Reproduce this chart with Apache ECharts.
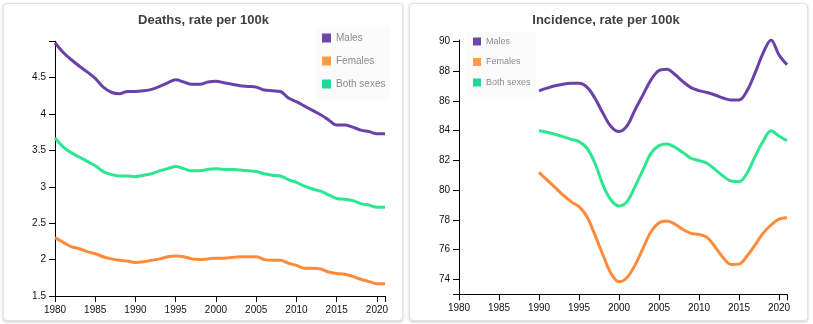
<!DOCTYPE html>
<html>
<head>
<meta charset="utf-8">
<script src="https://cdn.jsdelivr.net/npm/echarts@6/dist/echarts.min.js"></script>
<style>
  html, body { margin: 0; padding: 0; width: 813px; height: 324px; background: #fff; overflow: hidden; }
  .card { position: absolute; border: 1px solid #e2e2e2; border-radius: 4px; box-shadow: 0 1px 3px rgba(0,0,0,0.22); background: #fff; }
  #chart { position: absolute; left: 0; top: 0; width: 813px; height: 324px; }
</style>
</head>
<body>
<div class="card" style="left:3px;top:3px;width:398px;height:316px;"></div>
<div class="card" style="left:409px;top:3px;width:397px;height:316px;"></div>
<div id="chart"></div>
<script>
// ---- data ----
var deathTitle = 'Deaths, rate per 100k';
var incTitle = 'Incidence, rate per 100k';
var seriesNames = ['Males', 'Females', 'Both sexes'];

var deathYears = [1980,1981,1982,1983,1984,1985,1986,1987,1988,1989,
  1990,1991,1992,1993,1994,1995,1996,1997,1998,1999,
  2000,2001,2002,2003,2004,2005,2006,2007,2008,2009,
  2010,2011,2012,2013,2014,2015,2016,2017,2018,2019,2020,2021];
var deathsMales = [4.98,4.85,4.75,4.66,4.58,4.49,4.37,4.30,4.28,4.31,
  4.31,4.32,4.34,4.38,4.43,4.47,4.44,4.41,4.41,4.44,
  4.45,4.43,4.41,4.39,4.38,4.37,4.33,4.32,4.31,4.22,
  4.17,4.11,4.05,3.99,3.92,3.85,3.85,3.82,3.78,3.76,3.73,3.73];
var deathsFemales = [2.30,2.24,2.18,2.15,2.11,2.08,2.04,2.01,1.99,1.98,
  1.96,1.97,1.99,2.01,2.04,2.05,2.04,2.01,2.00,2.01,
  2.02,2.02,2.03,2.04,2.04,2.04,2.00,1.99,1.99,1.95,
  1.92,1.88,1.88,1.87,1.83,1.81,1.80,1.77,1.73,1.70,1.67,1.67];
var deathsBoth = [3.67,3.55,3.47,3.41,3.35,3.29,3.21,3.17,3.15,3.15,
  3.14,3.16,3.18,3.22,3.25,3.28,3.25,3.22,3.22,3.24,
  3.25,3.24,3.24,3.23,3.22,3.21,3.18,3.16,3.15,3.10,
  3.06,3.01,2.97,2.94,2.89,2.84,2.83,2.81,2.77,2.75,2.72,2.72];

var incYears = [1990,1991,1992,1993,1994,1995,1996,1997,1998,1999,
  2000,2001,2002,2003,2004,2005,2006,2007,2008,2009,
  2010,2011,2012,2013,2014,2015,2016,2017,2018,2019,2020,2021];
var incMales = [86.68,86.86,87.02,87.13,87.19,87.19,86.93,86.18,85.17,84.28,
  83.94,84.32,85.40,86.41,87.42,88.05,88.14,87.78,87.30,86.90,
  86.70,86.57,86.40,86.20,86.07,86.07,86.68,87.87,89.20,90.10,89.10,88.43];
var incFemales = [81.20,80.69,80.19,79.68,79.23,78.89,78.22,76.98,75.64,74.40,
  73.84,74.13,74.96,76.09,77.21,77.81,77.93,77.72,77.36,77.10,
  77.03,76.83,76.20,75.48,75.00,75.03,75.57,76.31,77.10,77.66,78.06,78.15];
var incBoth = [84.00,83.90,83.76,83.60,83.42,83.27,82.82,81.81,80.35,79.34,
  78.94,79.23,80.24,81.36,82.48,83.00,83.11,82.89,82.53,82.15,
  81.99,81.81,81.40,80.96,80.62,80.57,81.14,82.26,83.27,83.99,83.65,83.33];

var xTickLabels = [1980,1985,1990,1995,2000,2005,2010,2015,2020];
var deathYLabels = [1.5,2,2.5,3,3.5,4,4.5];
var incYLabels = [74,76,78,80,82,84,86,88,90];

// ---- styles ----
var lineColors = ['#6a40a9', '#ff8a3a', '#2ee68f'];
var legendColors = ['#6d46a8', '#ff9b40', '#27d59b'];
var font = '"Liberation Sans", Arial, sans-serif';

function pairs(xs, ys) { return xs.map(function (x, i) { return [x, ys[i]]; }); }

function xAxis(gi) {
  return {
    type: 'value', gridIndex: gi, min: 1980, max: 2021,
    axisLine: { show: true, onZero: false, lineStyle: { color: '#000', width: 1 } },
    axisTick: { show: true, length: 6, inside: false, lineStyle: { color: '#000' }, customValues: xTickLabels.concat([2021]) },
    axisLabel: { customValues: xTickLabels, color: '#111', fontSize: 10, fontFamily: font, margin: 9,
      formatter: function (v) { return String(v); } },
    splitLine: { show: false }
  };
}
function yAxis(gi, min, max, labels, extraTicks) {
  return {
    type: 'value', gridIndex: gi, min: min, max: max,
    axisLine: { show: true, onZero: false, lineStyle: { color: '#000', width: 1 } },
    axisTick: { show: true, length: 6, inside: false, lineStyle: { color: '#000' }, customValues: labels.concat(extraTicks) },
    axisLabel: { customValues: labels, color: '#111', fontSize: 10, fontFamily: font, margin: 9,
      formatter: function (v) { return String(v); } },
    splitLine: { show: false }
  };
}
function line(name, gi, xs, ys, color) {
  return {
    name: name, type: 'line', xAxisIndex: gi, yAxisIndex: gi,
    data: pairs(xs, ys), showSymbol: false, symbol: 'none',
    smooth: 0.35,
    lineStyle: { color: color, width: 3 }, itemStyle: { color: color }
  };
}
function legendData() {
  return seriesNames.map(function (n, i) { return { name: n, itemStyle: { color: legendColors[i] } }; });
}

var chart = echarts.init(document.getElementById('chart'), null, { renderer: 'canvas' });
chart.setOption({
  animation: false,
  graphic: [
    { type: 'text', x: 203.5, y: 14, style: { text: deathTitle, align: 'center', verticalAlign: 'top',
      fill: '#3f3f3f', font: 'bold 13px ' + font } },
    { type: 'text', x: 606, y: 14, style: { text: incTitle, align: 'center', verticalAlign: 'top',
      fill: '#3f3f3f', font: 'bold 13px ' + font } }
  ],
  grid: [
    { left: 55, width: 330, top: 41.3, height: 254.7 },
    { left: 459, width: 328, top: 40, height: 254.3 }
  ],
  legend: [
    { data: legendData(), orient: 'vertical', left: 316, top: 27, icon: 'rect', itemWidth: 9, itemHeight: 9,
      itemGap: 11, padding: [5, 5, 10, 6], backgroundColor: 'rgba(0,0,0,0.015)',
      textStyle: { color: '#8a8a8a', fontSize: 10, fontFamily: font, lineHeight: 12 },
      selectedMode: false },
    { data: legendData(), orient: 'vertical', left: 466, top: 32, icon: 'rect', itemWidth: 8, itemHeight: 8,
      itemGap: 9.5, padding: [4, 5, 9, 7], backgroundColor: 'rgba(0,0,0,0.015)',
      textStyle: { color: '#8a8a8a', fontSize: 9, fontFamily: font, lineHeight: 11 },
      selectedMode: false }
  ],
  xAxis: [xAxis(0), xAxis(1)],
  yAxis: [yAxis(0, 1.5, 5, deathYLabels, [5]), yAxis(1, 73, 90.1, incYLabels, [73])],
  series: [
    line(seriesNames[0], 0, deathYears, deathsMales, lineColors[0]),
    line(seriesNames[1], 0, deathYears, deathsFemales, lineColors[1]),
    line(seriesNames[2], 0, deathYears, deathsBoth, lineColors[2]),
    line(seriesNames[0], 1, incYears, incMales, lineColors[0]),
    line(seriesNames[1], 1, incYears, incFemales, lineColors[1]),
    line(seriesNames[2], 1, incYears, incBoth, lineColors[2])
  ]
});
</script>
</body>
</html>
